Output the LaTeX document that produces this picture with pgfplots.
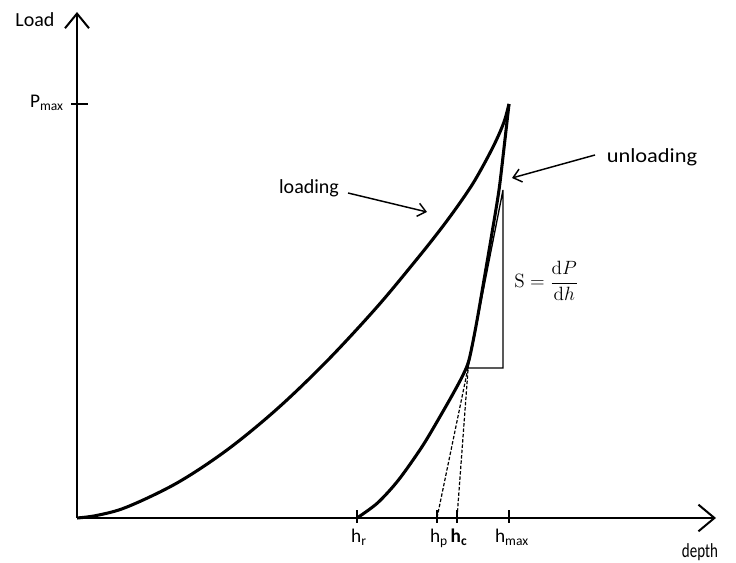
\documentclass[border=0pt]{standalone}
\usepackage[no-math]{fontspec}
\setmainfont{Carlito}
\usepackage{pgfplots}
\pgfplotsset{compat=1.18}
\usetikzlibrary{arrows.meta}

\begin{document}
\begin{tikzpicture}[
  lbl/.style={font=\fontsize{15}{18}\selectfont, inner sep=0pt},
  tlbl/.style={font=\fontsize{14.5}{17}\selectfont, inner sep=0pt},
  ann/.style={line width=1.1pt, -{Straight Barb[length=6pt,width=10pt,line width=1.1pt]}},
]
\begin{axis}[
  scale only axis, width=552pt, height=422.25pt,
  xmin=-77, xmax=659, ymin=-45, ymax=518,
  axis lines=none, clip=false,
]
% keep the full drawing area
\path (axis cs:-77,-45) rectangle (axis cs:659,518);

% axes with open arrow heads
\draw[line width=1.5pt, -{Straight Barb[length=11pt,width=18pt,line width=1.5pt]}]
  (axis cs:0,0) -- (axis cs:0,506);
\draw[line width=1.5pt, -{Straight Barb[length=12pt,width=20pt,line width=1.5pt]}]
  (axis cs:0,0) -- (axis cs:639,0);

% loading curve
\addplot[smooth, line width=2.3pt, tension=0.55] coordinates {
  (0,0) (20,2.6) (50,11) (100,35) (150,68) (200,109) (250,157)
  (300,211) (340,259) (363,288) (380,311) (395,333) (406,352)
  (416,371) (423,386) (428,399) (432,414)
};

% unloading curve
\addplot[smooth, line width=2.3pt, tension=0.5] coordinates {
  (432,414) (427,370) (422,328) (415,285) (407,238) (399,192)
  (392,158) (386,143) (377,126) (364.5,104) (345.5,72) (321.5,38)
  (300.5,15) (280,0)
};

% stiffness triangle
\addplot[line width=1pt] coordinates {(426,328) (426,150) (391,150) (426,328)};

% tangent extrapolations
\addplot[line width=0.9pt, dash pattern=on 2.6pt off 1.4pt] coordinates {(391,150) (360,0)};
\addplot[line width=0.9pt, dash pattern=on 2.6pt off 1.4pt] coordinates {(391,148) (380,0)};

% ticks
\draw[line width=1.2pt] (axis cs:-6,414) -- (axis cs:11,414);
\draw[line width=1.2pt] (axis cs:280,-5) -- (axis cs:280,8);
\draw[line width=1.2pt] (axis cs:360,-5) -- (axis cs:360,8);
\draw[line width=1.2pt] (axis cs:380,-5) -- (axis cs:380,8);
\draw[line width=1.2pt] (axis cs:432,-5) -- (axis cs:432,8);

% tick labels
\node[tlbl, anchor=base east] at (axis cs:-13,410) {P\textsubscript{max}};
\node[tlbl, anchor=north] at (axis cs:282,-11) {h\textsubscript{r}};
\node[tlbl, anchor=north] at (axis cs:362,-11) {h\textsubscript{p}};
\node[tlbl, anchor=north] at (axis cs:382,-11) {\textbf{h\textsubscript{c}}};
\node[tlbl, anchor=north] at (axis cs:435,-11) {h\textsubscript{max}};

% axis titles
\node[lbl] at (axis cs:-42,498) {Load};
\node[lbl] at (axis cs:623,-34) {\scalebox{0.75}[1]{depth}};

% annotations
\node[lbl] at (axis cs:232,330) {loading};
\draw[ann] (axis cs:271,325) -- (axis cs:350,306);
\node[lbl] at (axis cs:575,361) {\scalebox{1.12}[1]{unloading}};
\draw[ann] (axis cs:518,363) -- (axis cs:435,340);
\node[anchor=west, inner sep=0pt, font=\fontsize{14}{17}\selectfont] at (axis cs:437,237)
  {$\mathrm{S}=\displaystyle\frac{\mathrm{d}P}{\mathrm{d}h}$};
\end{axis}
\end{tikzpicture}
\end{document}
